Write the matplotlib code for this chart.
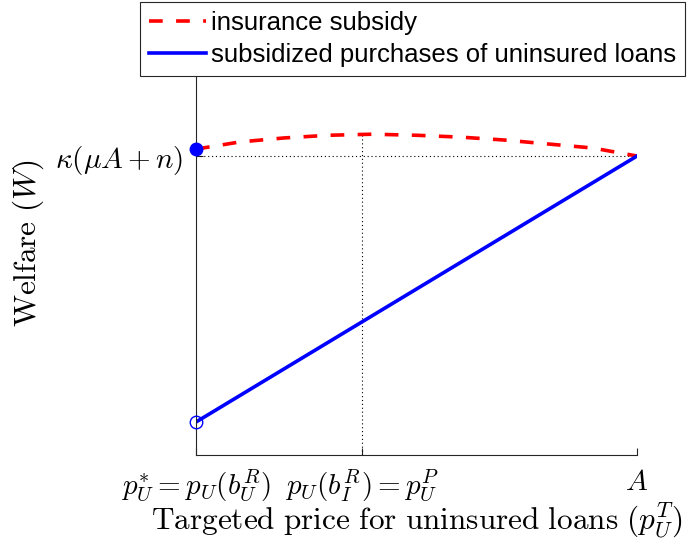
import matplotlib
matplotlib.use("Agg")
import matplotlib.pyplot as plt

plt.rcParams['mathtext.fontset'] = 'cm'

# price axis, A normalised to 1
x_red = [0.0, 0.1, 0.2, 0.3, 0.4, 0.5, 0.6, 0.7, 0.8, 0.9, 1.0]
w_red = [1.026, 1.053, 1.068, 1.078, 1.082, 1.078, 1.071, 1.060, 1.045, 1.030, 1.0]
x_blue = [0.0, 1.0]
w_blue = [0.0, 1.0]
x_p = 0.376          # p_U(b_I^R) = p_U^P
w_peak = 1.082
w_kappa = 1.0

xtick_pos = [0.0, x_p, 1.0]
xtick_labels = [r'$p_U^{*}=p_U(b_U^R)$', r'$p_U(b_I^R)=p_U^P$', r'$A$']

fig = plt.figure(figsize=(6.88, 5.41), dpi=100)
ax = fig.add_axes([196/688, 86/541, 441/688, 424/541])

ax.plot([0, 1], [w_kappa, w_kappa], color='k', lw=0.8, dashes=(1, 2.5))
ax.plot([x_p, x_p], [-0.124, w_peak], color='k', lw=0.8, dashes=(1, 2.5))

red, = ax.plot(x_red, w_red, color='red', lw=2.6, dashes=(3.8, 3.7),
               dash_capstyle='butt', label='insurance subsidy')
blue, = ax.plot(x_blue, w_blue, color='blue', lw=2.6,
                label='subsidized purchases of uninsured loans')
ax.plot([0], [w_red[0]], 'o', color='blue', ms=9, clip_on=False, zorder=5)
ax.plot([0], [w_blue[0]], 'o', mfc='none', mec='blue', ms=9, mew=1,
        clip_on=False, zorder=5)

ax.set_xlim(0, 1)
ax.set_ylim(-0.124, 1.47)
for s in ['top', 'right']:
    ax.spines[s].set_visible(False)
for s in ['left', 'bottom']:
    ax.spines[s].set_color('#262626')
    ax.spines[s].set_linewidth(0.8)

ax.set_xticks(xtick_pos)
ax.set_xticklabels(xtick_labels, fontsize=21)
ax.set_yticks([w_kappa])
ax.set_yticklabels([r'$\kappa(\mu A+n)$'], fontsize=21)
ax.tick_params(direction='in', length=5, color='#262626', pad=9)

ax.set_xlabel(r'$\mathrm{Targeted\ price\ for\ uninsured\ loans}\ (p_U^T)$',
              fontsize=22.5, labelpad=-2)
ax.set_ylabel(r'$\mathrm{Welfare}\ (W)$', fontsize=22.5)
ax.yaxis.set_label_coords(-150/441, 0.5)

leg = fig.legend(handles=[red, blue], loc='upper right',
                 bbox_to_anchor=(685/688, 1 - 2/541),
                 prop={'family': 'Liberation Sans', 'size': 18.5},
                 fancybox=False, framealpha=1, edgecolor='#262626',
                 handlelength=2.2, handletextpad=0.2, labelspacing=0.3,
                 borderpad=0.35, borderaxespad=0)
leg.get_frame().set_linewidth(0.8)

fig.savefig('out.png', dpi=100)
